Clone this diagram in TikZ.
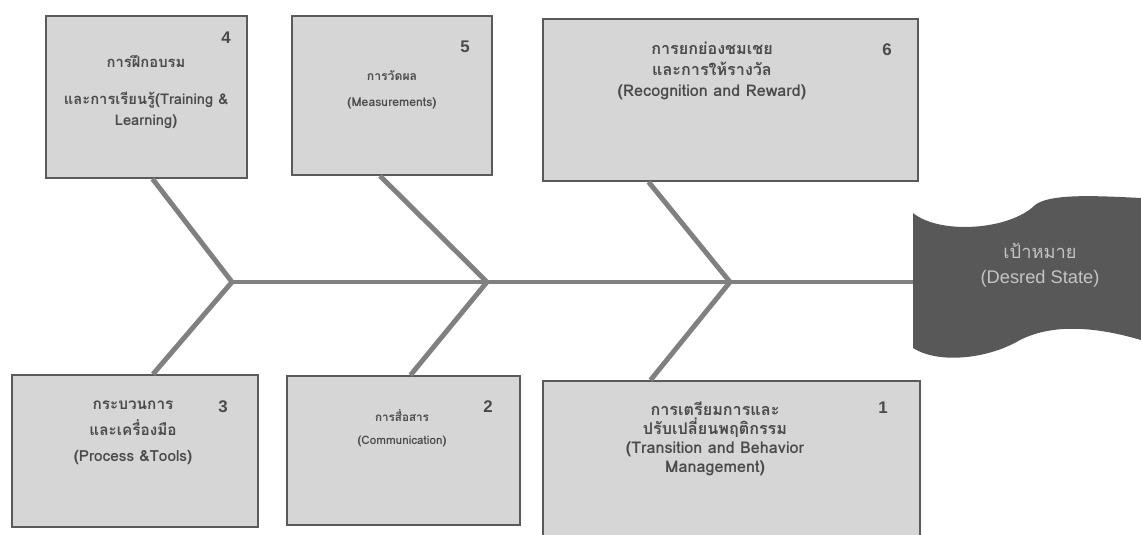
\documentclass[tikz,border=0pt]{standalone}
\usepackage{fontspec}
\setmainfont{Liberation Sans}
\newfontfamily\thaifont[Script=Thai]{Loma}
\usetikzlibrary{calc}
\definecolor{boxgray}{HTML}{D6D6D6}
\definecolor{edgegray}{HTML}{5A5A5A}
\definecolor{bonegray}{HTML}{808080}
\definecolor{headgray}{HTML}{585858}
\definecolor{headtext}{HTML}{C4C4C4}
\definecolor{inkgray}{HTML}{4A4A4A}
\newcommand{\boxfont}[2]{\thaifont\bfseries\fontsize{#1}{#2}\selectfont}
\tikzstyle{cbox}=[rectangle, draw=edgegray, fill=boxgray, line width=1.2pt]
\tikzstyle{ctext}=[text=inkgray, align=center, inner sep=0pt]
\tikzstyle{cnum}=[text=inkgray, font=\bfseries\large, inner sep=0pt]
\tikzstyle{bone}=[line width=3.5pt, bonegray]

\begin{document}
\begin{tikzpicture}[x=0.025cm, y=-0.025cm]
\useasboundingbox (0,0) rectangle (1141,534);

% causes, top row
    \node (b4) [cbox, minimum width=5.025cm, minimum height=4.05cm] at (146.5,97) {};
    \node (t4) [ctext, font=\boxfont{10.5}{13}] at (146,92) {การฝึกอบรม\\[13pt] และการเรียนรู้(Training \&\\[2pt] Learning)};
    \node (n4) [cnum] at (226,38) {4};

    \node (b5) [cbox, minimum width=5cm, minimum height=3.975cm] at (392,95.5) {};
    \node (t5) [ctext, font=\boxfont{8.7}{11}] at (392,90) {การวัดผล\\[7.5pt] (Measurements)};
    \node (n5) [cnum] at (465,47) {5};

    \node (b6) [cbox, minimum width=9.375cm, minimum height=4.05cm] at (730.5,100) {};
    \node (t6) [ctext, font=\boxfont{11.5}{14}] at (712,71) {การยกย่องชมเชย\\[1pt] และการให้รางวัล\\[1pt] (Recognition and Reward)};
    \node (n6) [cnum] at (887,50) {6};

% causes, bottom row
    \node (b3) [cbox, minimum width=6.15cm, minimum height=3.8cm] at (135,451) {};
    \node (t3) [ctext, font=\boxfont{10.9}{13}] at (133,433) {กระบวนการ\\[5pt] และเครื่องมือ\\[6pt] (Process \&Tools)};
    \node (n3) [cnum] at (223,407) {3};

    \node (b2) [cbox, minimum width=5.825cm, minimum height=3.725cm] at (403.5,450.5) {};
    \node (t2) [ctext, font=\boxfont{8.3}{10}] at (402,428) {การสื่อสาร\\[6.4pt] (Communication)};
    \node (n2) [cnum] at (488,407) {2};

    \node (b1) [cbox, minimum width=9.425cm, minimum height=4.1cm] at (731.5,463) {};
    \node (t1) [ctext, font=\boxfont{11.5}{13.5}] at (715,439) {การเตรียมการและ\\ ปรับเปลี่ยนพฤติกรรม\\ (Transition and Behavior\\ Management)};
    \node (n1) [cnum] at (883,408) {1};

% head
    \fill[headgray] (913,213) .. controls (940,235) and (1010,230) .. (1035,205)
        .. controls (1050,193) and (1100,196) .. (1141,198) -- (1141,340)
        .. controls (1090,325) and (1050,325) .. (1020,340)
        .. controls (990,358) and (940,365) .. (913,348) -- cycle;
    \node (hd) [text=headtext, align=center, font=\fontsize{13}{18}\selectfont] at (1040,265)
        {{\thaifont เป้าหมาย}\\ (Desred State)};
    \coordinate (he) at (913,282);

% spine joints
    \coordinate (j1) at (232,282);
    \coordinate (j2) at (487,282);
    \coordinate (j3) at (730,282);

% lines
   \draw[bone] (j1) -- (he);
   \draw[bone] ($(b4.south)+(6,0)$) -- (j1);
   \draw[bone] ($(b5.south)+(-12,0)$) -- (j2);
   \draw[bone] ($(b6.south)+(-82,0)$) -- (j3);
   \draw[bone] (j1) -- ($(b3.north)+(18,0)$);
   \draw[bone] (j2) -- ($(b2.north)+(7,0)$);
   \draw[bone] (j3) -- ($(b1.north)+(-81,0)$);
\end{tikzpicture}
\end{document}
